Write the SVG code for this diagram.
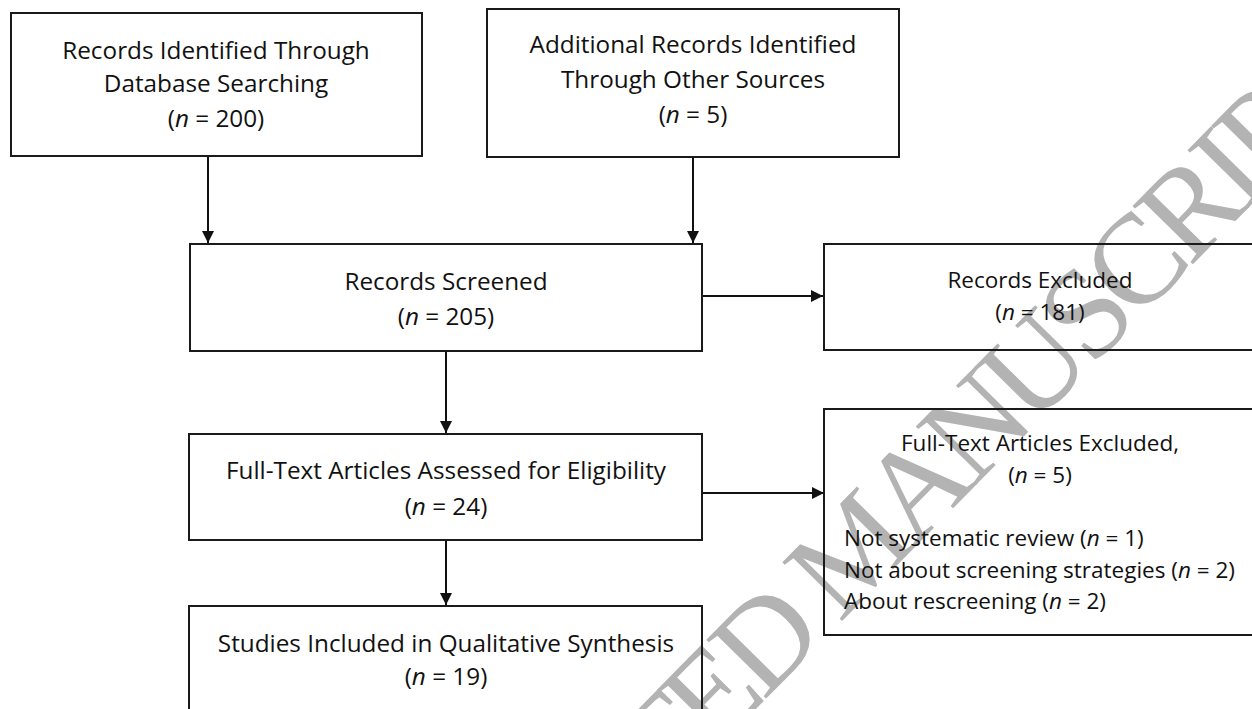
<svg xmlns="http://www.w3.org/2000/svg" width="1252" height="709" viewBox="0 0 1252 709">
<defs>
<style>
.box{fill:none;stroke:#1a1a1a;stroke-width:2}
.t{font-family:"Open Sans","Noto Sans","Liberation Sans",sans-serif;font-size:24.3px;fill:#111}
.s{font-size:22.5px}
.c{text-anchor:middle}
.wm{font-family:"Liberation Serif","Times New Roman",serif;font-size:128px;letter-spacing:-8px;fill:#b3b3b3}
.conn{stroke:#111;stroke-width:2;fill:none}
</style>
<marker id="ah" markerWidth="12" markerHeight="12" refX="12" refY="6" orient="auto" markerUnits="userSpaceOnUse">
<path d="M0,0 L12,6 L0,12 z" fill="#111"/>
</marker>
</defs>
<rect width="1252" height="709" fill="#fff"/>
<g id="watermark">
<text class="wm" transform="translate(404,1067) rotate(-45.5)" x="0" y="0">ACCEPTED MANUSCRIPT</text>
</g>
<g id="connectors">
<line class="conn" x1="208" y1="157" x2="208" y2="243" marker-end="url(#ah)"/>
<line class="conn" x1="693" y1="158" x2="693" y2="243" marker-end="url(#ah)"/>
<line class="conn" x1="703" y1="296" x2="823" y2="296" marker-end="url(#ah)"/>
<line class="conn" x1="446" y1="352" x2="446" y2="433" marker-end="url(#ah)"/>
<line class="conn" x1="703" y1="493" x2="824" y2="493" marker-end="url(#ah)"/>
<line class="conn" x1="446" y1="541" x2="446" y2="605" marker-end="url(#ah)"/>
</g>
<g id="n1">
<rect class="box" x="11" y="13" width="411" height="143"/>
<text class="t c" x="216" y="59">Records Identified Through</text>
<text class="t c" x="216" y="92">Database Searching</text>
<text class="t c" x="216" y="127">(<tspan font-style="italic">n</tspan> = 200)</text>
</g>
<g id="n2">
<rect class="box" x="487" y="9" width="412" height="148"/>
<text class="t c" x="693" y="53">Additional Records Identified</text>
<text class="t c" x="693" y="88">Through Other Sources</text>
<text class="t c" x="693" y="123">(<tspan font-style="italic">n</tspan> = 5)</text>
</g>
<g id="n3">
<rect class="box" x="190" y="244" width="512" height="107"/>
<text class="t c" x="446" y="290">Records Screened</text>
<text class="t c" x="446" y="325">(<tspan font-style="italic">n</tspan> = 205)</text>
</g>
<g id="n4">
<rect class="box" x="824" y="244" width="440" height="106"/>
<text class="t s c" x="1040" y="288">Records Excluded</text>
<text class="t s c" x="1040" y="320">(<tspan font-style="italic">n</tspan> = 181)</text>
</g>
<g id="n5">
<rect class="box" x="189" y="434" width="513" height="106"/>
<text class="t c" x="446" y="479">Full-Text Articles Assessed for Eligibility</text>
<text class="t c" x="446" y="515">(<tspan font-style="italic">n</tspan> = 24)</text>
</g>
<g id="n6">
<rect class="box" x="824" y="409" width="440" height="226"/>
<text class="t s c" x="1040" y="451">Full-Text Articles Excluded,</text>
<text class="t s c" x="1040" y="483">(<tspan font-style="italic">n</tspan> = 5)</text>
<text class="t s" x="844" y="546">Not systematic review (<tspan font-style="italic">n</tspan> = 1)</text>
<text class="t s" x="844" y="578">Not about screening strategies (<tspan font-style="italic">n</tspan> = 2)</text>
<text class="t s" x="844" y="609">About rescreening (<tspan font-style="italic">n</tspan> = 2)</text>
</g>
<g id="n7">
<rect class="box" x="189" y="606" width="513" height="110"/>
<text class="t c" x="446" y="652">Studies Included in Qualitative Synthesis</text>
<text class="t c" x="446" y="685">(<tspan font-style="italic">n</tspan> = 19)</text>
</g>
</svg>
